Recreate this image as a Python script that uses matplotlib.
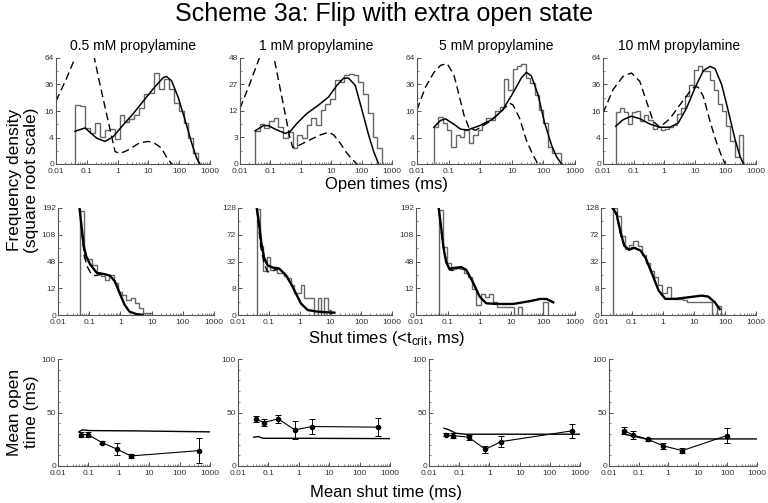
import numpy as np
import matplotlib
matplotlib.use('Agg')
import matplotlib.pyplot as plt
from matplotlib.ticker import LogLocator, NullFormatter, FixedLocator, MultipleLocator

plt.rcParams['font.family'] = ['Liberation Sans', 'DejaVu Sans']
plt.rcParams['mathtext.fontset'] = 'custom'
plt.rcParams['mathtext.rm'] = 'Liberation Sans'
plt.rcParams['mathtext.it'] = 'Liberation Sans:italic'

conc_labels = ['0.5 mM propylamine', '1 mM propylamine', '5 mM propylamine', '10 mM propylamine']

# ---- open time distributions (top row) ----
# histogram: first / last bin edge in ms, bin heights
open_range = [(0.042, 417), (0.031, 467), (0.034, 357), (0.026, 370)]
open_hist_1 = [20, 19, 7.4, 5.5, 9.6, 4.3, 6.7, 7, 3.5, 13.4, 9.9, 11.6, 13.9, 18, 27.7, 29,
               46.7, 31.8, 41, 31.8, 21, 16, 9.6, 3.8, 0.75]
open_hist_2 = [4.7, 6.7, 5.4, 7.9, 8.9, 6.0, 2.8, 4.5, 1.07, 3.6, 2.8, 6.5, 8.9, 6.5, 12.4, 15.6,
               18.3, 29.8, 29, 34, 34.7, 33.5, 28.7, 21, 10.9, 3.2, 1.07]
open_hist_3 = [7.6, 12.5, 9.8, 6.4, 1.7, 4.8, 4.3, 6.6, 2.6, 4.8, 6.6, 9.5, 12, 11.1, 15.7, 18.8,
               41, 31.4, 51, 55, 57, 42, 37, 27.3, 16.7, 9.5, 1.7, 0.74, 0.74]
open_hist_4 = [15.4, 17.9, 15.4, 9.1, 15.4, 15.8, 10.4, 13.9, 11.2, 7.1, 7.7, 6.7, 7.1, 7.7, 8.8,
               14.2, 17.9, 26, 35.8, 50.7, 54.3, 49.6, 48.9, 40.5, 31.5, 20.5, 15.8, 8.1, 3.0, 0.3, 4.9]

# fitted pdf (solid) and predicted pdf (dashed)
open_fit_x_1 = [0.0414, 0.0875, 0.209, 0.39, 0.728, 1.54, 3.24, 6.85, 14.5, 30.6, 39.2, 56.9, 93.7, 154, 254, 369, 473]
open_fit_y_1 = [6.1, 7.4, 3.8, 2.9, 4.3, 8.8, 14.5, 22.6, 32.4, 42.6, 43.6, 39.3, 25, 11.2, 2.5, 0.19, 0]
open_dash_x_1 = [0.01, 0.0222, 0.0414, 0.0771, 0.112, 0.176, 0.268, 0.39, 0.568, 0.826, 1.2, 1.97, 3.24,
                 5.3, 9.97, 16.3, 26.8, 39.2, 57]
open_dash_y_1 = [22.6, 42, 64, 81, 85, 64, 36, 18.5, 6.8, 0.88, 0.64, 1.0, 1.7, 2.6, 2.9, 2.4, 1.44, 0.25, 0]

open_fit_x_2 = [0.0313, 0.0588, 0.0859, 0.1426, 0.305, 0.445, 0.738, 1.58, 3.82, 8.17, 15.4, 25.5, 37.3,
                61.8, 103, 170, 249, 363]
open_fit_y_2 = [4.7, 6.3, 6.3, 5.2, 4.0, 4.5, 7.0, 10.9, 14.8, 19.2, 26.4, 31.5, 31.5, 26.4, 12.4, 3.6, 0.67, 0]
open_dash_x_2 = [0.01, 0.0214, 0.0434, 0.0757, 0.132, 0.236, 0.42, 0.54, 0.737, 1.58, 4.33, 8.2, 12.1,
                 19.8, 32.8, 54.1, 69.6]
open_dash_y_2 = [13.2, 28, 48, 58, 48, 19.4, 3.6, 1.17, 1.3, 2.2, 3.6, 4.3, 3.6, 1.85, 0.5, 0.05, 0]

open_fit_x_3 = [0.034, 0.0556, 0.0802, 0.131, 0.241, 0.394, 0.929, 2.48, 5.17, 10.8, 19.9, 28.7, 41.4,
                67.6, 110, 180, 260, 375]
open_fit_y_3 = [7.7, 10.8, 11.6, 9.5, 6.9, 6.6, 8.3, 11.4, 16.7, 28.6, 42, 47.8, 44.4, 27.3, 9.5, 2.07, 0.31, 0]
open_dash_x_3 = [0.01, 0.0185, 0.034, 0.0556, 0.0906, 0.1478, 0.2128, 0.306, 0.444, 0.727, 1.94, 4.55,
                 8.45, 10.8, 17.6, 28.7, 46.5, 67.6]
open_dash_y_3 = [16.7, 33.6, 47.6, 55.5, 57.3, 45, 27.3, 13.7, 7.3, 6.5, 10.2, 15.7, 21, 20, 12, 3.3, 0.46, 0]

open_fit_x_4 = [0.026, 0.0453, 0.085, 0.159, 0.339, 0.721, 1.53, 2.88, 5.4, 10.1, 19, 31.4, 45.8, 75.8,
                125, 207, 302, 389]
open_fit_y_4 = [8.1, 11.2, 13, 11.7, 9.1, 7.7, 7.7, 9.6, 17.9, 32.9, 49.6, 54.3, 51.8, 35.8, 15.8, 3.4, 0.33, 0]
open_dash_x_4 = [0.01, 0.0213, 0.0453, 0.085, 0.159, 0.2996, 0.4375, 0.721, 1.53, 3.27, 6.95, 10.1, 12.9,
                 19, 31.4, 51.9, 75.8, 97.8]
open_dash_y_4 = [14.8, 31.5, 43.8, 47.2, 38.9, 18.9, 10.4, 7.7, 11.7, 20, 30, 34.4, 33.5, 26, 10.4, 2.5, 0.33, 0]

open_yticks = [[0, 4, 16, 36, 64], [0, 3, 12, 27, 48], [0, 4, 16, 36, 64], [0, 4, 16, 36, 64]]

# ---- shut time distributions (middle row) ----
shut_range = [(0.049, 10.2), (0.0406, 10.5), (0.052, 137), (0.0236, 72.8)]
shut_hist_1 = [182, 55, 53, 42.7, 29.7, 26, 21, 27.4, 17.1, 8.5, 6.8, 3.8, 4.7, 2.3, 0.76, 0.1, 0.1]
shut_hist_2 = [126, 54, 22, 38, 22.5, 22.5, 19.3, 19.3, 17, 14.9, 10, 5.2, 5.2, 10, 3.1, 3.1, 3.1, 0,
               3.1, 0, 3.1, 0.3]
shut_hist_3 = [186, 77, 45, 36, 37, 35.7, 29.3, 23.9, 11.4, 1.7, 7.4, 5.3, 7.4, 2.7, 1.0, 1.0, 1.0, 1.0,
               0, 1.0, 0, 0, 0, 0, 0, 2.7]
shut_hist_4 = [128, 110, 70, 48, 55, 62, 54, 40, 30, 22, 16, 10, 5.5, 8.6, 3.2, 2.9, 2.7, 2.5, 1.8, 1.8,
               1.8, 1.8, 1.8, 1.8, 0, 1.0]

shut_fit_x_1 = [0.049, 0.0566, 0.067, 0.0812, 0.108, 0.175, 0.285, 0.462, 0.664, 0.951, 1.37, 1.96, 3.18, 5.17]
shut_fit_y_1 = [192, 133, 80, 56.8, 42.8, 29.7, 28.3, 26, 19, 8, 1.7, 0.19, 0.017, 0]
shut_dash_x_1 = [0.049, 0.0595, 0.0703, 0.0853, 0.114, 0.156, 0.285]
shut_dash_y_1 = [192, 105, 58, 40, 28.7, 26, 28.3]

shut_fit_x_2 = [0.0406, 0.0485, 0.0577, 0.0704, 0.0905, 0.132, 0.217, 0.358, 0.521, 0.759, 1.1, 1.82, 3.86, 13.5]
shut_fit_y_2 = [128, 93, 57, 37, 27.8, 25.2, 24.2, 17.8, 11.1, 5.2, 1.5, 0.28, 0.12, 0.06]
shut_dash_x_2 = [0.0406, 0.0549, 0.0704, 0.0905, 0.116, 0.169, 0.246]
shut_dash_y_2 = [128, 51.8, 29.6, 20.9, 20.9, 23.2, 24]

shut_fit_x_3 = [0.052, 0.0615, 0.073, 0.0886, 0.113, 0.1625, 0.264, 0.379, 0.616, 1.0, 1.62, 3.36, 11.3,
                37.9, 78.5, 127, 207]
shut_fit_y_3 = [190, 130, 77, 46.8, 35.7, 37.3, 38.4, 34.2, 18, 5.7, 2.3, 2.04, 2.04, 3.2, 4.3, 4.3, 2.7]
shut_dash_x_3 = [0.052, 0.0695, 0.0886, 0.113, 0.144, 0.234]
shut_dash_y_3 = [190, 85, 49.8, 34, 33.2, 37.3]

shut_fit_x_4 = [0.0236, 0.0316, 0.0404, 0.0555, 0.0802, 0.116, 0.189, 0.273, 0.446, 0.727, 1.19, 2.48,
                6.59, 17.6, 28.7, 46.8, 67.6]
shut_fit_y_4 = [128, 115, 83, 54, 47.5, 50.5, 46.5, 36.5, 18.9, 6.6, 2.9, 2.9, 3.5, 4.2, 3.8, 1.8, 0.4]
shut_dash_x_4 = [0.0236, 0.0316, 0.0435, 0.0598, 0.0802, 0.116, 0.189]
shut_dash_y_4 = [128, 111, 70.7, 52.5, 49, 51, 46.5]

shut_yticks = [[0, 12, 48, 108, 192], [0, 8, 32, 72, 128], [0, 12, 48, 108, 192], [0, 8, 32, 72, 128]]

# ---- conditional mean open times (bottom row) ----
mean_shut_1 = [0.056, 0.0966, 0.279, 0.845, 2.5, 444]
mean_open_1 = [29.4, 29.4, 21.9, 15.9, 9.4, 14.4]
mean_err_1 = [2, 2, 1.5, 5.8, 1.8, 11.7]
pred_x_1 = [0.0497, 0.0636, 0.109, 3.44, 1000]
pred_y_1 = [32.2, 33.8, 33.1, 32.8, 31.9]

mean_shut_2 = [0.0382, 0.0701, 0.2084, 0.738, 2.75, 412]
mean_open_2 = [44.1, 40.6, 44.1, 33.75, 36.9, 36.3]
mean_err_2 = [3, 3.5, 3.5, 8.5, 7, 8.5]
pred_x_2 = [0.0328, 0.0456, 0.0667, 1.08, 1000]
pred_y_2 = [26.9, 27.5, 25.9, 25.9, 25.6]

mean_shut_3 = [0.036, 0.063, 0.2047, 0.736, 2.45, 527]
mean_open_3 = [29.1, 28.4, 26.9, 15.6, 22.8, 32.8]
mean_err_3 = [1.5, 2.5, 2.5, 3, 5, 6.5]
pred_x_3 = [0.0316, 0.0464, 0.0774, 0.1668, 1000]
pred_y_3 = [35.3, 33.75, 30.6, 29.7, 29.7]

mean_shut_4 = [0.0324, 0.0624, 0.203, 0.693, 3.0, 94.9]
mean_open_4 = [33.1, 29.1, 25, 18.75, 14.4, 28.4]
mean_err_4 = [3, 3.5, 1.5, 2.5, 2.5, 7]
pred_x_4 = [0.0285, 0.0624, 0.178, 1000]
pred_y_4 = [30, 28.1, 25.3, 25.3]

open_hists = [open_hist_1, open_hist_2, open_hist_3, open_hist_4]
open_fits = [(open_fit_x_1, open_fit_y_1), (open_fit_x_2, open_fit_y_2),
             (open_fit_x_3, open_fit_y_3), (open_fit_x_4, open_fit_y_4)]
open_dashes = [(open_dash_x_1, open_dash_y_1), (open_dash_x_2, open_dash_y_2),
               (open_dash_x_3, open_dash_y_3), (open_dash_x_4, open_dash_y_4)]
shut_hists = [shut_hist_1, shut_hist_2, shut_hist_3, shut_hist_4]
shut_fits = [(shut_fit_x_1, shut_fit_y_1), (shut_fit_x_2, shut_fit_y_2),
             (shut_fit_x_3, shut_fit_y_3), (shut_fit_x_4, shut_fit_y_4)]
shut_dashes = [(shut_dash_x_1, shut_dash_y_1), (shut_dash_x_2, shut_dash_y_2),
               (shut_dash_x_3, shut_dash_y_3), (shut_dash_x_4, shut_dash_y_4)]
means = [(mean_shut_1, mean_open_1, mean_err_1, pred_x_1, pred_y_1),
         (mean_shut_2, mean_open_2, mean_err_2, pred_x_2, pred_y_2),
         (mean_shut_3, mean_open_3, mean_err_3, pred_x_3, pred_y_3),
         (mean_shut_4, mean_open_4, mean_err_4, pred_x_4, pred_y_4)]

W, H = 768, 503
fig = plt.figure(figsize=(W / 100, H / 100), dpi=100)

AX = '#555555'
HIST = '#666666'


def px_axes(left, top, width, height):
    return fig.add_axes([left / W, 1 - (top + height) / H, width / W, height / H])


def sqrt_fwd(v):
    return np.sqrt(np.clip(v, 0, None))


def sqrt_inv(s):
    return np.square(s)


def style(ax):
    for s in ['top', 'right']:
        ax.spines[s].set_visible(False)
    for s in ['left', 'bottom']:
        ax.spines[s].set_color(AX)
        ax.spines[s].set_linewidth(0.8)
    ax.set_xscale('log')
    ax.set_xlim(0.01, 1000)
    ax.set_xticks([0.01, 0.1, 1, 10, 100, 1000])
    ax.set_xticklabels(['0.01', '0.1', '1', '10', '100', '1000'])
    ax.xaxis.set_minor_locator(LogLocator(base=10, subs=np.arange(2, 10), numticks=20))
    ax.xaxis.set_minor_formatter(NullFormatter())
    ax.tick_params(which='major', direction='in', length=3, width=0.7, color=AX,
                   labelsize=6, labelcolor='#333333')
    ax.tick_params(axis='x', pad=3)
    ax.tick_params(axis='y', pad=1.5)
    ax.tick_params(which='minor', direction='in', length=1.6, width=0.5, color=AX)


def sqrt_panel(ax, hist, rng, fit, dash, ticks, lw_fit):
    ax.set_yscale('function', functions=(sqrt_fwd, sqrt_inv))
    edges = np.logspace(np.log10(rng[0]), np.log10(rng[1]), len(hist) + 1)
    ax.stairs(hist, edges, baseline=0, color=HIST, lw=1.0)
    ax.plot(fit[0], fit[1], color='black', lw=lw_fit)
    ax.plot(dash[0], dash[1], color='black', lw=1.0, dashes=(5.5, 3))
    style(ax)
    ax.set_ylim(0, ticks[-1])
    ax.yaxis.set_major_locator(FixedLocator(ticks))
    ax.set_yticklabels([str(t) for t in ticks])
    step = np.sqrt(ticks[1])
    ax.yaxis.set_minor_locator(FixedLocator([((i + 0.5) * step) ** 2 for i in range(len(ticks) - 1)]))


top_left = [56, 240, 417, 603]
top_width = [154, 152, 158, 153]
mid_left = [58, 238, 416, 601]
mid_width = [156, 154, 159, 155]
bot_left = [58, 238, 429, 609]
bot_width = [152, 152, 151, 148]

for i in range(4):
    ax = px_axes(top_left[i], 58, top_width[i], 106)
    sqrt_panel(ax, open_hists[i], open_range[i], open_fits[i], open_dashes[i], open_yticks[i], 1.1)
    ax.set_title(conc_labels[i], fontsize=10, pad=6)

    ax = px_axes(mid_left[i], 208, mid_width[i], 107)
    sqrt_panel(ax, shut_hists[i], shut_range[i], shut_fits[i], shut_dashes[i], shut_yticks[i], 1.7)

    ax = px_axes(bot_left[i], 359, bot_width[i], 107)
    mx, my, me, px_, py_ = means[i]
    ax.plot(px_, py_, color='black', lw=1.0)
    ax.errorbar(mx, my, yerr=me, fmt='-o', color='black', ms=3, lw=0.8,
                elinewidth=0.7, capsize=2, capthick=0.7)
    style(ax)
    ax.set_ylim(0, 100)
    ax.set_yticks([0, 50, 100])
    ax.yaxis.set_minor_locator(MultipleLocator(10))

fig.text(0.5, 1 - 14 / H, 'Scheme 3a: Flip with extra open state', ha='center', va='center', fontsize=18)
fig.text(0.503, 1 - 184 / H, 'Open times (ms)', ha='center', va='center', fontsize=12)
fig.text(0.503, 1 - 338 / H, 'Shut times (<t$_{\\mathrm{crit}}$, ms)', ha='center', va='center', fontsize=12)
fig.text(0.503, 1 - 492 / H, 'Mean shut time (ms)', ha='center', va='center', fontsize=12)
fig.text(23 / W, 1 - 180 / H, 'Frequency density\n(square root scale)', ha='center', va='center',
         rotation=90, fontsize=12.5, linespacing=1.15)
fig.text(23 / W, 1 - 412 / H, 'Mean open\ntime (ms)', ha='center', va='center',
         rotation=90, fontsize=12.5, linespacing=1.15)

fig.savefig('out.png', dpi=100)
